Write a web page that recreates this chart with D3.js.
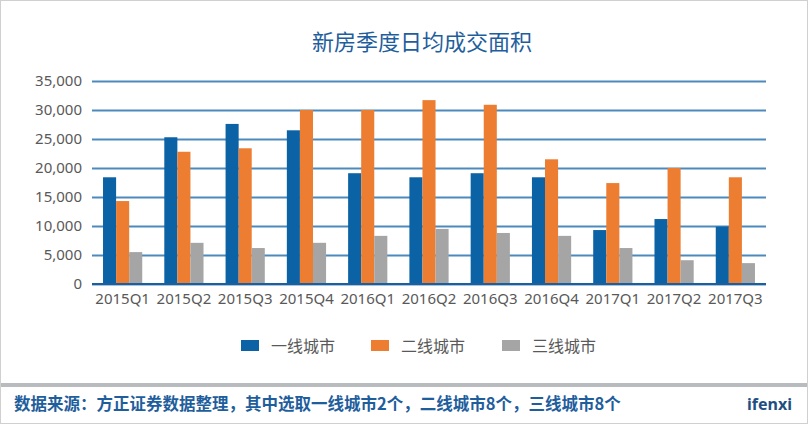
<!DOCTYPE html>
<html><head><meta charset="utf-8">
<script src="https://cdn.jsdelivr.net/npm/d3@7"></script>
<style>body{margin:0;background:#fff}svg{display:block}</style>
</head><body><svg id="c" width="808" height="424"></svg>
<script>
const categories = ["2015Q1","2015Q2","2015Q3","2015Q4","2016Q1","2016Q2","2016Q3","2016Q4","2017Q1","2017Q2","2017Q3"];
const seriesNames = ["一线城市","二线城市","三线城市"];
const tier1 = [18400,25300,27600,26500,19100,18400,19100,18400,9300,11200,9900];
const tier2 = [14300,22800,23400,30000,30000,31700,30900,21500,17400,20000,18400];
const tier3 = [5500,7100,6200,7100,8300,9500,8800,8300,6200,4100,3600];
const yTicks = [0,5000,10000,15000,20000,25000,30000,35000];
const colors = ["#0b62a4","#ed7d31","#a5a5a5"];
const title = "新房季度日均成交面积";
const source = "数据来源：方正证券数据整理，其中选取一线城市2个，二线城市8个，三线城市8个";

(function(){
const svg = d3.select("#c");
const font = "'Noto Sans','Noto Sans CJK SC',sans-serif";
// frame
svg.append("rect").attr("x",0.5).attr("y",0.5).attr("width",807).attr("height",423)
  .attr("fill","#fff").attr("stroke","#d0d0d0");

const pLeft=92, pRight=766, pTop=81, pBottom=284;
const x = d3.scaleBand().domain(categories).range([pLeft,pRight]).paddingInner(0.36).paddingOuter(0.18);
const xs = d3.scaleBand().domain(d3.range(3)).range([0,x.bandwidth()]);
const y = d3.scaleLinear().domain([0,35000]).range([pBottom,pTop]);

svg.append("text").attr("x",422).attr("y",50).attr("text-anchor","middle")
  .attr("font-family","'Noto Sans CJK SC',sans-serif").attr("font-size",22).attr("fill","#1f5e9c").text(title);

// gridlines
const yAxis = d3.axisLeft(y).tickValues(yTicks).tickSize(-(pRight-pLeft)).tickPadding(10)
  .tickFormat(d3.format(","));
const ga = svg.append("g").attr("transform",`translate(${pLeft},0)`).call(yAxis);
ga.select(".domain").remove();
ga.selectAll(".tick line").attr("stroke","#4d89bb").attr("stroke-width",2);
ga.selectAll(".tick text").attr("font-family",font).attr("font-size",15).attr("fill","#595959");

const data = [tier1,tier2,tier3];
categories.forEach((c,i)=>{
  data.forEach((arr,s)=>{
    svg.append("rect").attr("x",x(c)+xs(s)).attr("width",xs.bandwidth())
      .attr("y",y(arr[i])).attr("height",y(0)-y(arr[i])).attr("fill",colors[s]);
  });
});
// baseline
svg.append("line").attr("x1",pLeft).attr("x2",pRight).attr("y1",y(0)).attr("y2",y(0))
  .attr("stroke","#1f5e9c").attr("stroke-width",2);

const xAxis = d3.axisBottom(x).tickSize(0).tickPadding(9);
const gx = svg.append("g").attr("transform",`translate(0,${pBottom})`).call(xAxis);
gx.select(".domain").remove();
gx.selectAll(".tick text").attr("font-family",font).attr("font-size",15).attr("fill","#595959");

// legend
const legX = [241,371,502];
seriesNames.forEach((n,s)=>{
  svg.append("rect").attr("x",legX[s]).attr("y",340).attr("width",18).attr("height",11).attr("fill",colors[s]);
  svg.append("text").attr("x",legX[s]+30).attr("y",351.5).attr("font-family","'Noto Sans CJK SC',sans-serif")
    .attr("font-size",16).attr("fill","#595959").text(n);
});

// footer
svg.append("rect").attr("x",1).attr("y",383).attr("width",806).attr("height",4).attr("fill","#b8bcbf");
svg.append("text").attr("x",14).attr("y",410).attr("font-family","'Noto Sans CJK SC',sans-serif")
  .attr("font-size",16.5).attr("font-weight","bold").attr("fill","#1f5e9c").text(source);
svg.append("text").attr("x",792).attr("y",410).attr("text-anchor","end").attr("font-family","'Noto Sans',sans-serif")
  .attr("font-size",16).attr("font-weight","bold").attr("fill","#1f4f82").text("ifenxi");
})();
</script></body></html>
